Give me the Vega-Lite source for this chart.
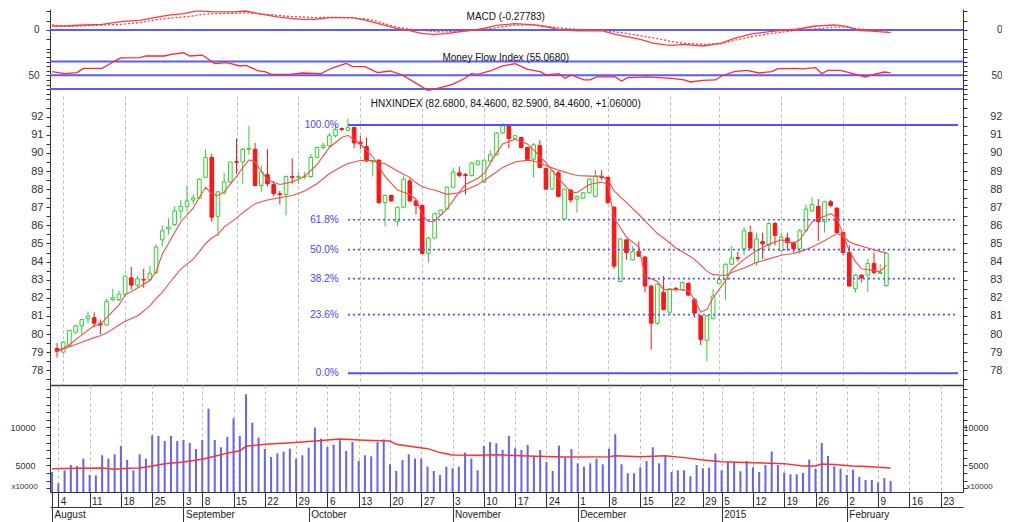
{
"$schema":"https://vega.github.io/schema/vega-lite/v6.json",
"padding":{"left":0,"top":8,"right":0,"bottom":0},
"background":"white",
"spacing":0,
"bounds":"flush",
"config":{"font":"Liberation Sans","view":{"stroke":null},"axis":{"labelFont":"Liberation Sans","titleFont":"Liberation Sans","labelColor":"#333","tickColor":"#333","domainColor":"#333"}},
"datasets":{
"k":[
{"i":0,"o":79.2,"h":79.5,"l":78.7,"c":79.05,"v":4120},
{"i":1,"o":79.0,"h":79.6,"l":78.9,"c":79.55,"v":2630},
{"i":2,"o":79.35,"h":80.2,"l":79.3,"c":80.2,"v":4340},
{"i":3,"o":80.1,"h":80.5,"l":80.0,"c":80.45,"v":5040},
{"i":4,"o":80.45,"h":80.8,"l":80.0,"c":80.8,"v":4910},
{"i":5,"o":80.85,"h":81.25,"l":80.6,"c":81.0,"v":5880},
{"i":6,"o":80.9,"h":81.2,"l":80.35,"c":80.6,"v":3730},
{"i":7,"o":80.57,"h":80.8,"l":80.0,"c":80.5,"v":3680},
{"i":8,"o":80.5,"h":81.95,"l":80.45,"c":81.8,"v":6320},
{"i":9,"o":81.9,"h":82.5,"l":81.8,"c":82.0,"v":5880},
{"i":10,"o":81.9,"h":82.4,"l":81.8,"c":82.2,"v":6450},
{"i":11,"o":82.2,"h":83.25,"l":82.1,"c":83.2,"v":7540},
{"i":12,"o":83.1,"h":83.7,"l":82.45,"c":82.7,"v":5700},
{"i":13,"o":82.7,"h":83.2,"l":82.55,"c":83.05,"v":4340},
{"i":14,"o":83.02,"h":83.6,"l":82.55,"c":82.98,"v":6450},
{"i":15,"o":83.0,"h":83.75,"l":82.95,"c":83.35,"v":5880},
{"i":16,"o":83.4,"h":84.95,"l":83.3,"c":84.8,"v":8950},
{"i":17,"o":85.2,"h":86.0,"l":84.85,"c":85.7,"v":8860},
{"i":18,"o":85.8,"h":86.4,"l":85.5,"c":85.9,"v":8200},
{"i":19,"o":86.05,"h":87.05,"l":85.95,"c":86.8,"v":8860},
{"i":20,"o":86.8,"h":87.4,"l":86.35,"c":87.05,"v":8200},
{"i":21,"o":87.05,"h":88.2,"l":86.8,"c":87.35,"v":8330},
{"i":22,"o":87.4,"h":87.7,"l":87.15,"c":87.5,"v":7940},
{"i":23,"o":87.5,"h":88.6,"l":87.45,"c":88.55,"v":7150},
{"i":24,"o":88.65,"h":90.2,"l":88.6,"c":89.75,"v":8330},
{"i":25,"o":89.75,"h":89.95,"l":86.2,"c":86.45,"v":12460},
{"i":26,"o":86.5,"h":87.9,"l":85.4,"c":87.85,"v":8330},
{"i":27,"o":87.8,"h":88.9,"l":87.7,"c":88.4,"v":7370},
{"i":28,"o":88.4,"h":89.5,"l":88.3,"c":89.5,"v":8730},
{"i":29,"o":89.52,"h":90.8,"l":88.85,"c":89.48,"v":11180},
{"i":30,"o":89.5,"h":90.3,"l":88.3,"c":90.2,"v":8860},
{"i":31,"o":90.2,"h":91.5,"l":89.9,"c":90.25,"v":14340},
{"i":32,"o":90.2,"h":90.55,"l":88.15,"c":88.2,"v":10610},
{"i":33,"o":88.2,"h":89.3,"l":87.85,"c":88.95,"v":8640},
{"i":34,"o":88.8,"h":90.2,"l":88.15,"c":88.3,"v":7150},
{"i":35,"o":88.25,"h":88.45,"l":87.6,"c":87.75,"v":6100},
{"i":36,"o":87.75,"h":87.9,"l":87.15,"c":87.7,"v":6580},
{"i":37,"o":87.7,"h":88.75,"l":86.55,"c":88.7,"v":6800},
{"i":38,"o":88.7,"h":89.7,"l":88.3,"c":88.65,"v":7190},
{"i":39,"o":88.65,"h":88.95,"l":88.3,"c":88.7,"v":5880},
{"i":40,"o":88.7,"h":88.95,"l":88.55,"c":88.72,"v":6320},
{"i":41,"o":88.7,"h":89.95,"l":88.6,"c":89.75,"v":7330},
{"i":42,"o":89.75,"h":90.35,"l":89.7,"c":90.3,"v":9960},
{"i":43,"o":90.3,"h":90.55,"l":90.2,"c":90.4,"v":8510},
{"i":44,"o":90.4,"h":91.1,"l":90.35,"c":90.95,"v":7410},
{"i":45,"o":90.95,"h":91.6,"l":90.85,"c":91.3,"v":7720},
{"i":46,"o":91.35,"h":91.4,"l":91.2,"c":91.3,"v":8290},
{"i":47,"o":91.25,"h":91.9,"l":91.2,"c":91.4,"v":6890},
{"i":48,"o":91.4,"h":91.45,"l":90.25,"c":90.55,"v":8070},
{"i":49,"o":90.6,"h":90.95,"l":90.2,"c":90.5,"v":5570},
{"i":50,"o":90.35,"h":90.85,"l":89.5,"c":89.55,"v":6320},
{"i":51,"o":89.5,"h":89.6,"l":88.7,"c":89.55,"v":6180},
{"i":52,"o":89.6,"h":89.65,"l":87.2,"c":87.25,"v":8070},
{"i":53,"o":87.25,"h":87.7,"l":85.95,"c":87.65,"v":8420},
{"i":54,"o":87.65,"h":87.7,"l":87.3,"c":87.35,"v":5130},
{"i":55,"o":86.2,"h":87.05,"l":85.95,"c":87.0,"v":4250},
{"i":56,"o":87.0,"h":88.75,"l":86.95,"c":88.55,"v":5700},
{"i":57,"o":88.45,"h":88.6,"l":87.3,"c":87.35,"v":6450},
{"i":58,"o":87.35,"h":87.4,"l":86.6,"c":87.1,"v":5880},
{"i":59,"o":87.1,"h":87.15,"l":84.4,"c":84.45,"v":5880},
{"i":60,"o":84.45,"h":85.35,"l":83.95,"c":85.3,"v":4830},
{"i":61,"o":85.3,"h":86.7,"l":85.25,"c":86.65,"v":4250},
{"i":62,"o":86.6,"h":86.9,"l":86.55,"c":86.85,"v":3730},
{"i":63,"o":86.9,"h":88.15,"l":86.85,"c":88.1,"v":4830},
{"i":64,"o":88.1,"h":89.2,"l":88.05,"c":88.95,"v":4610},
{"i":65,"o":88.9,"h":89.25,"l":88.65,"c":88.75,"v":4830},
{"i":66,"o":88.8,"h":88.9,"l":87.7,"c":88.75,"v":6670},
{"i":67,"o":88.75,"h":89.5,"l":88.7,"c":89.45,"v":5880},
{"i":68,"o":89.35,"h":89.6,"l":89.3,"c":89.55,"v":4340},
{"i":69,"o":88.4,"h":89.6,"l":88.35,"c":89.6,"v":7540},
{"i":70,"o":89.55,"h":90.15,"l":89.5,"c":89.9,"v":8070},
{"i":71,"o":89.9,"h":91.15,"l":89.85,"c":91.1,"v":7900},
{"i":72,"o":91.1,"h":91.65,"l":91.05,"c":91.5,"v":7020},
{"i":73,"o":91.5,"h":91.55,"l":90.25,"c":90.8,"v":8860},
{"i":74,"o":90.8,"h":91.0,"l":90.7,"c":90.95,"v":7240},
{"i":75,"o":90.85,"h":90.9,"l":90.25,"c":90.3,"v":7020},
{"i":76,"o":90.3,"h":90.35,"l":89.6,"c":89.65,"v":7680},
{"i":77,"o":89.65,"h":90.55,"l":88.65,"c":90.45,"v":6140},
{"i":78,"o":90.4,"h":90.7,"l":89.15,"c":89.2,"v":7020},
{"i":79,"o":89.15,"h":89.2,"l":87.95,"c":88.0,"v":5440},
{"i":80,"o":88.0,"h":89.05,"l":87.95,"c":89.0,"v":4250},
{"i":81,"o":88.9,"h":89.0,"l":87.55,"c":87.6,"v":7590},
{"i":82,"o":86.35,"h":88.05,"l":86.3,"c":88.0,"v":6010},
{"i":83,"o":87.95,"h":88.0,"l":87.25,"c":87.4,"v":7150},
{"i":84,"o":87.45,"h":87.65,"l":86.7,"c":87.6,"v":5260},
{"i":85,"o":87.5,"h":87.85,"l":87.45,"c":87.8,"v":4830},
{"i":86,"o":87.8,"h":88.6,"l":87.75,"c":88.55,"v":5260},
{"i":87,"o":87.6,"h":89.05,"l":87.55,"c":88.7,"v":5880},
{"i":88,"o":88.7,"h":89.05,"l":88.5,"c":88.65,"v":5130},
{"i":89,"o":88.65,"h":88.7,"l":87.2,"c":87.25,"v":7190},
{"i":90,"o":87.0,"h":87.05,"l":83.6,"c":83.75,"v":9080},
{"i":91,"o":82.9,"h":85.3,"l":82.85,"c":85.25,"v":5130},
{"i":92,"o":85.2,"h":85.25,"l":84.1,"c":84.5,"v":3950},
{"i":93,"o":84.1,"h":84.85,"l":84.05,"c":84.55,"v":3950},
{"i":94,"o":84.55,"h":85.1,"l":84.25,"c":84.3,"v":4740},
{"i":95,"o":84.25,"h":84.3,"l":82.3,"c":82.65,"v":5570},
{"i":96,"o":82.65,"h":82.7,"l":79.15,"c":80.6,"v":7370},
{"i":97,"o":80.6,"h":82.8,"l":80.5,"c":82.75,"v":5260},
{"i":98,"o":82.3,"h":83.2,"l":81.3,"c":81.35,"v":6230},
{"i":99,"o":81.2,"h":82.55,"l":81.15,"c":82.5,"v":4120},
{"i":100,"o":82.52,"h":82.6,"l":82.35,"c":82.48,"v":4340},
{"i":101,"o":82.45,"h":82.9,"l":82.4,"c":82.85,"v":4340},
{"i":102,"o":82.8,"h":82.85,"l":82.1,"c":82.15,"v":3550},
{"i":103,"o":81.9,"h":82.0,"l":80.9,"c":81.15,"v":5040},
{"i":104,"o":81.0,"h":81.05,"l":79.4,"c":79.7,"v":4610},
{"i":105,"o":79.65,"h":81.05,"l":78.5,"c":81.0,"v":4690},
{"i":106,"o":80.85,"h":82.5,"l":80.8,"c":82.1,"v":6540},
{"i":107,"o":82.8,"h":83.2,"l":82.75,"c":83.0,"v":4340},
{"i":108,"o":83.0,"h":83.9,"l":81.9,"c":83.85,"v":5440},
{"i":109,"o":83.85,"h":84.85,"l":83.8,"c":84.2,"v":5440},
{"i":110,"o":84.22,"h":84.55,"l":84.0,"c":84.18,"v":4210},
{"i":111,"o":84.7,"h":85.9,"l":84.35,"c":85.7,"v":5570},
{"i":112,"o":85.6,"h":86.0,"l":84.7,"c":84.75,"v":4740},
{"i":113,"o":83.95,"h":85.6,"l":83.75,"c":85.25,"v":4120},
{"i":114,"o":85.1,"h":85.6,"l":84.15,"c":84.98,"v":5040},
{"i":115,"o":84.9,"h":86.2,"l":84.6,"c":86.1,"v":6800},
{"i":116,"o":86.1,"h":86.2,"l":84.9,"c":85.45,"v":5040},
{"i":117,"o":84.6,"h":85.6,"l":84.55,"c":85.35,"v":4040},
{"i":118,"o":85.3,"h":85.6,"l":84.6,"c":85.05,"v":3820},
{"i":119,"o":85.05,"h":85.1,"l":84.5,"c":84.7,"v":3820},
{"i":120,"o":84.7,"h":85.8,"l":84.45,"c":85.7,"v":3990},
{"i":121,"o":85.7,"h":87.15,"l":85.65,"c":86.9,"v":5750},
{"i":122,"o":86.8,"h":87.55,"l":86.75,"c":87.15,"v":4560},
{"i":123,"o":87.05,"h":87.45,"l":85.15,"c":86.2,"v":7940},
{"i":124,"o":86.2,"h":87.35,"l":85.6,"c":87.3,"v":6230},
{"i":125,"o":87.3,"h":87.4,"l":87.0,"c":87.1,"v":4870},
{"i":126,"o":86.95,"h":87.0,"l":85.55,"c":85.6,"v":4560},
{"i":127,"o":85.6,"h":85.65,"l":84.35,"c":84.5,"v":3730},
{"i":128,"o":84.5,"h":84.9,"l":82.6,"c":82.65,"v":4430},
{"i":129,"o":82.5,"h":83.3,"l":82.3,"c":83.25,"v":3470},
{"i":130,"o":83.25,"h":83.3,"l":82.85,"c":83.1,"v":3070},
{"i":131,"o":83.25,"h":84.15,"l":82.3,"c":83.9,"v":3070},
{"i":132,"o":83.9,"h":84.5,"l":83.3,"c":83.4,"v":2760},
{"i":133,"o":83.35,"h":83.85,"l":83.3,"c":83.4,"v":3330},
{"i":134,"o":82.68,"h":84.46,"l":82.59,"c":84.46,"v":2940}
],
"ma":[
{"i":0,"a":79.04,"b":79.04},{"i":2,"a":79.41,"b":79.3},{"i":4,"a":79.95,"b":79.55},{"i":6,"a":80.47,"b":79.8},{"i":7,"a":80.51,"b":79.9},{"i":8,"a":80.9,"b":80.05},{"i":10,"a":81.6,"b":80.5},{"i":11,"a":82.15,"b":80.7},{"i":13,"a":82.54,"b":81.0},{"i":15,"a":82.95,"b":81.55},{"i":16,"a":83.45,"b":81.95},{"i":17,"a":84.4,"b":82.3},{"i":18,"a":85.0,"b":82.75},{"i":20,"a":86.2,"b":83.58},{"i":22,"a":86.95,"b":84.13},{"i":23,"a":87.55,"b":84.55},{"i":24,"a":88.1,"b":85.0},{"i":25,"a":87.75,"b":85.3},{"i":26,"a":87.65,"b":85.5},{"i":27,"a":87.85,"b":85.9},{"i":29,"a":88.7,"b":86.4},{"i":30,"a":89.18,"b":86.7},{"i":31,"a":89.62,"b":86.95},{"i":32,"a":89.5,"b":87.2},{"i":33,"a":89.0,"b":87.3},{"i":34,"a":88.5,"b":87.4},{"i":36,"a":88.26,"b":87.52},{"i":38,"a":88.4,"b":87.65},{"i":40,"a":88.7,"b":87.9},{"i":42,"a":89.35,"b":88.3},{"i":44,"a":90.3,"b":88.85},{"i":46,"a":90.85,"b":89.25},{"i":47,"a":90.97,"b":89.42},{"i":49,"a":90.5,"b":89.58},{"i":51,"a":89.8,"b":89.58},{"i":53,"a":88.7,"b":89.4},{"i":55,"a":87.95,"b":89.0},{"i":57,"a":87.7,"b":88.65},{"i":58,"a":87.43,"b":88.35},{"i":59,"a":86.6,"b":88.15},{"i":60,"a":86.2,"b":88.02},{"i":61,"a":86.24,"b":87.95},{"i":63,"a":86.9,"b":87.71},{"i":65,"a":87.85,"b":87.8},{"i":66,"a":88.26,"b":87.95},{"i":68,"a":88.6,"b":88.25},{"i":69,"a":88.85,"b":88.48},{"i":71,"a":90.0,"b":88.95},{"i":72,"a":90.5,"b":89.2},{"i":74,"a":90.75,"b":89.5},{"i":76,"a":90.5,"b":89.6},{"i":77,"a":90.15,"b":89.55},{"i":79,"a":89.46,"b":89.3},{"i":81,"a":88.6,"b":89.05},{"i":83,"a":87.85,"b":88.85},{"i":84,"a":87.8,"b":88.75},{"i":86,"a":88.26,"b":88.72},{"i":88,"a":88.39,"b":88.72},{"i":89,"a":88.26,"b":88.5},{"i":90,"a":86.4,"b":87.9},{"i":92,"a":85.35,"b":87.25},{"i":94,"a":84.8,"b":86.6},{"i":95,"a":83.2,"b":86.25},{"i":97,"a":82.9,"b":85.55},{"i":98,"a":82.45,"b":85.3},{"i":100,"a":82.46,"b":84.75},{"i":102,"a":82.4,"b":84.35},{"i":103,"a":81.91,"b":84.12},{"i":104,"a":81.2,"b":83.8},{"i":105,"a":81.36,"b":83.47},{"i":106,"a":82.0,"b":83.28},{"i":108,"a":82.95,"b":83.23},{"i":109,"a":83.55,"b":83.4},{"i":111,"a":84.12,"b":83.65},{"i":113,"a":84.6,"b":83.95},{"i":115,"a":84.95,"b":84.15},{"i":117,"a":85.2,"b":84.35},{"i":119,"a":85.0,"b":84.45},{"i":120,"a":85.2,"b":84.55},{"i":121,"a":85.7,"b":84.65},{"i":122,"a":86.2,"b":84.8},{"i":124,"a":86.5,"b":85.15},{"i":125,"a":86.65,"b":85.35},{"i":126,"a":86.4,"b":85.55},{"i":127,"a":85.5,"b":85.4},{"i":128,"a":84.6,"b":85.1},{"i":129,"a":84.0,"b":84.95},{"i":130,"a":83.6,"b":84.85},{"i":132,"a":83.5,"b":84.65},{"i":133,"a":83.45,"b":84.55},{"i":134,"a":83.8,"b":84.48}
],
"vma":[
{"i":0,"v":4560},{"i":4,"v":4600},{"i":8,"v":4650},{"i":10,"v":4470},{"i":12,"v":4620},{"i":14,"v":4650},{"i":16,"v":4900},{"i":18,"v":5200},{"i":21,"v":5440},{"i":24,"v":5790},{"i":26,"v":6200},{"i":28,"v":6600},{"i":30,"v":6900},{"i":31,"v":7500},{"i":34,"v":7760},{"i":37,"v":7900},{"i":40,"v":8070},{"i":42,"v":8200},{"i":46,"v":8450},{"i":50,"v":8290},{"i":54,"v":8200},{"i":55,"v":7760},{"i":58,"v":7410},{"i":60,"v":7190},{"i":62,"v":6670},{"i":64,"v":6360},{"i":68,"v":6320},{"i":71,"v":6400},{"i":76,"v":6230},{"i":82,"v":6100},{"i":89,"v":6140},{"i":90,"v":6270},{"i":94,"v":6140},{"i":98,"v":6250},{"i":101,"v":6010},{"i":104,"v":5700},{"i":107,"v":5480},{"i":112,"v":5350},{"i":117,"v":5220},{"i":120,"v":4910},{"i":122,"v":4910},{"i":123,"v":5170},{"i":125,"v":5090},{"i":128,"v":4910},{"i":131,"v":4820},{"i":134,"v":4650}
],
"macd":[
{"i":0,"m":0.43,"s":0.54},{"i":2,"m":0.43,"s":0.38},{"i":5,"m":0.54,"s":0.45},{"i":8,"m":0.61,"s":0.54},{"i":11,"m":0.9,"s":0.61},{"i":14,"m":1.04,"s":0.79},{"i":17,"m":1.4,"s":1.15},{"i":19,"m":1.62,"s":1.28},{"i":21,"m":1.76,"s":1.4},{"i":23,"m":2.04,"s":1.55},{"i":24,"m":2.04,"s":1.68},{"i":26,"m":1.94,"s":1.75},{"i":29,"m":1.94,"s":1.8},{"i":31,"m":2.04,"s":1.86},{"i":33,"m":1.76,"s":1.76},{"i":36,"m":1.4,"s":1.58},{"i":38,"m":1.25,"s":1.45},{"i":40,"m":1.15,"s":1.4},{"i":42,"m":1.15,"s":1.33},{"i":44,"m":1.3,"s":1.36},{"i":46,"m":1.33,"s":1.35},{"i":48,"m":1.33,"s":1.3},{"i":50,"m":1.05,"s":1.2},{"i":52,"m":0.7,"s":0.92},{"i":54,"m":0.35,"s":0.5},{"i":55,"m":0.18,"s":0.32},{"i":57,"m":-0.04,"s":0.1},{"i":59,"m":-0.36,"s":0.0},{"i":61,"m":-0.47,"s":-0.18},{"i":63,"m":-0.4,"s":-0.2},{"i":65,"m":-0.2,"s":-0.15},{"i":67,"m":-0.04,"s":-0.05},{"i":69,"m":0.18,"s":0.05},{"i":71,"m":0.5,"s":0.25},{"i":74,"m":0.68,"s":0.52},{"i":77,"m":0.56,"s":0.56},{"i":79,"m":0.35,"s":0.4},{"i":81,"m":0.05,"s":0.22},{"i":84,"m":-0.1,"s":0.07},{"i":88,"m":-0.1,"s":-0.02},{"i":90,"m":-0.47,"s":-0.2},{"i":92,"m":-0.75,"s":-0.39},{"i":94,"m":-1.0,"s":-0.6},{"i":96,"m":-1.4,"s":-0.85},{"i":98,"m":-1.6,"s":-1.1},{"i":99,"m":-1.65,"s":-1.25},{"i":101,"m":-1.54,"s":-1.43},{"i":104,"m":-1.72,"s":-1.54},{"i":107,"m":-1.4,"s":-1.47},{"i":109,"m":-0.9,"s":-1.12},{"i":112,"m":-0.39,"s":-0.68},{"i":115,"m":-0.15,"s":-0.37},{"i":117,"m":0.0,"s":-0.2},{"i":119,"m":0.08,"s":-0.03},{"i":122,"m":0.43,"s":0.12},{"i":123,"m":0.48,"s":0.18},{"i":125,"m":0.54,"s":0.32},{"i":127,"m":0.4,"s":0.3},{"i":129,"m":-0.06,"s":0.12},{"i":131,"m":-0.12,"s":-0.02},{"i":134,"m":-0.28,"s":-0.1}
],
"mfi":[
{"i":0,"f":58},{"i":2,"f":53.6},{"i":4,"f":55.8},{"i":5,"f":65},{"i":8,"f":65},{"i":10,"f":81},{"i":11,"f":88},{"i":14,"f":88.4},{"i":15,"f":92},{"i":18,"f":92},{"i":19,"f":95.6},{"i":21,"f":99},{"i":22,"f":92},{"i":24,"f":94},{"i":26,"f":75.4},{"i":28,"f":77.5},{"i":30,"f":70.3},{"i":31,"f":71.7},{"i":33,"f":59.4},{"i":34,"f":58},{"i":35,"f":52.2},{"i":38,"f":52.2},{"i":40,"f":55},{"i":43,"f":53.6},{"i":44,"f":61},{"i":45,"f":66.7},{"i":47,"f":76},{"i":48,"f":69.6},{"i":50,"f":68.8},{"i":52,"f":55.8},{"i":54,"f":59.4},{"i":56,"f":50.7},{"i":58,"f":34},{"i":60,"f":17.4},{"i":61,"f":19.6},{"i":64,"f":30.4},{"i":66,"f":43.5},{"i":67,"f":53.6},{"i":68,"f":52.2},{"i":70,"f":59.4},{"i":72,"f":70.3},{"i":74,"f":75.4},{"i":76,"f":63},{"i":78,"f":58},{"i":79,"f":50.7},{"i":81,"f":53.6},{"i":82,"f":43.5},{"i":83,"f":50.7},{"i":85,"f":39.9},{"i":86,"f":39.9},{"i":87,"f":46.4},{"i":90,"f":46.4},{"i":91,"f":37.7},{"i":92,"f":45},{"i":95,"f":46.4},{"i":99,"f":43.5},{"i":101,"f":39.9},{"i":102,"f":35.5},{"i":104,"f":39.1},{"i":106,"f":39.9},{"i":107,"f":48.5},{"i":109,"f":58},{"i":111,"f":60.9},{"i":113,"f":55},{"i":115,"f":58},{"i":116,"f":64.5},{"i":119,"f":65.2},{"i":120,"f":63.8},{"i":122,"f":66.7},{"i":123,"f":53.6},{"i":124,"f":60.9},{"i":126,"f":60.9},{"i":128,"f":53.6},{"i":130,"f":46.4},{"i":131,"f":50.7},{"i":133,"f":57.2},{"i":134,"f":55.07}
],
"fib":[
{"p":"100.0%","y":91.54,"s":1},{"p":"61.8%","y":86.31,"s":0},{"p":"50.0%","y":84.66,"s":0},{"p":"38.2%","y":83.06,"s":0},{"p":"23.6%","y":81.07,"s":0},{"p":"0.0%","y":77.83,"s":1}
]
},
"vconcat":[
{
"width":913,"height":40,
"resolve":{"axis":{"y":"independent"}},
"layer":[
{"data":{"values":[{}]},"mark":{"type":"rule","color":"#5b5bff","strokeWidth":2},"encoding":{"y":{"datum":0,"type":"quantitative","scale":{"domain":[-2.043,2.258],"nice":false,"zero":false},"axis":null}}},
{"data":{"name":"macd"},"mark":{"type":"line","color":"#ff3c3c","strokeWidth":1.3},
"encoding":{
"x":{"field":"i","type":"quantitative","scale":{"domain":[-0.33,145.57],"nice":false,"zero":false},"axis":{"values":[1,6,11,16,21,24,29,34,39,44,49,54,59,64,69,74,79,84,89,94,99,104,107,112,117,122,127,132,137,142],"grid":true,"gridColor":"#bbbbbb","gridDash":[3,3],"labels":false,"ticks":false,"domain":true,"domainColor":"#3a3a3a","domainWidth":1.5,"title":null,"minExtent":0,"maxExtent":0}},
"y":{"field":"m","type":"quantitative","scale":{"domain":[-2.043,2.258],"nice":false,"zero":false},"axis":{"values":[-2,-1,0,1,2],"labelExpr":"datum.value==0?'0':''","tickSize":4,"labelPadding":7,"labelFontSize":10,"title":null,"grid":false,"minExtent":50,"maxExtent":50}}}},
{"data":{"name":"macd"},"mark":{"type":"line","color":"#ff3c3c","strokeWidth":1.3,"strokeDash":[2,2]},
"encoding":{
"x":{"field":"i","type":"quantitative","scale":{"domain":[-0.33,145.57],"nice":false,"zero":false}},
"y":{"field":"s","type":"quantitative","scale":{"domain":[-2.043,2.258],"nice":false,"zero":false},"axis":{"orient":"right","values":[-2,-1,0,1,2],"labelExpr":"datum.value==0?'0':''","tickSize":4,"labelPadding":35,"labelAlign":"right","labelFontSize":10,"title":null,"grid":false}}}},
{"data":{"values":[{}]},"mark":{"type":"text","fontSize":10,"color":"#111","baseline":"middle","align":"center"},
"encoding":{"x":{"datum":72.5,"type":"quantitative","scale":{"domain":[-0.33,145.57],"nice":false,"zero":false},"axis":null},"y":{"datum":1.4,"type":"quantitative","scale":{"domain":[-2.043,2.258],"nice":false,"zero":false},"axis":null},"text":{"value":"MACD (-0.27783)"}}}
]
},
{
"width":913,"height":47,
"resolve":{"axis":{"y":"independent"}},
"layer":[
{"data":{"values":[{"t":20},{"t":50},{"t":80}]},"mark":{"type":"rule","color":"#5b5bff","strokeWidth":2},"encoding":{"y":{"field":"t","type":"quantitative","scale":{"domain":[5,107.2],"nice":false,"zero":false},"axis":null}}},
{"data":{"name":"mfi"},"mark":{"type":"line","color":"#ff2a2a","strokeWidth":1.3},
"encoding":{
"x":{"field":"i","type":"quantitative","scale":{"domain":[-0.33,145.57],"nice":false,"zero":false},"axis":{"values":[1,6,11,16,21,24,29,34,39,44,49,54,59,64,69,74,79,84,89,94,99,104,107,112,117,122,127,132,137,142],"grid":true,"gridColor":"#bbbbbb","gridDash":[3,3],"labels":false,"ticks":false,"domain":true,"domainColor":"#3a3a3a","domainWidth":1.5,"title":null,"minExtent":0,"maxExtent":0}},
"y":{"field":"f","type":"quantitative","scale":{"domain":[5,107.2],"nice":false,"zero":false},"axis":{"values":[10,20,30,40,50,60,70,80,90,100],"labelExpr":"datum.value==50?'50':''","tickSize":4,"labelPadding":7,"labelFontSize":10,"title":null,"grid":false,"minExtent":50,"maxExtent":50}}}},
{"data":{"name":"mfi"},"mark":{"type":"line","opacity":0},
"encoding":{
"x":{"field":"i","type":"quantitative","scale":{"domain":[-0.33,145.57],"nice":false,"zero":false}},
"y":{"field":"f","type":"quantitative","scale":{"domain":[5,107.2],"nice":false,"zero":false},"axis":{"orient":"right","values":[10,20,30,40,50,60,70,80,90,100],"labelExpr":"datum.value==50?'50':''","tickSize":4,"labelPadding":35,"labelAlign":"right","labelFontSize":10,"title":null,"grid":false}}}},
{"data":{"values":[{}]},"mark":{"type":"text","fontSize":10,"color":"#111","baseline":"middle","align":"center"},
"encoding":{"x":{"datum":72.5,"type":"quantitative","scale":{"domain":[-0.33,145.57],"nice":false,"zero":false},"axis":null},"y":{"datum":87,"type":"quantitative","scale":{"domain":[5,107.2],"nice":false,"zero":false},"axis":null},"text":{"value":"Money Flow Index (55.0680)"}}}
]
},
{
"width":913,"height":289,
"resolve":{"axis":{"y":"independent"}},
"layer":[
{"data":{"name":"k"},"mark":{"type":"rule","strokeWidth":1},
"encoding":{
"x":{"field":"i","type":"quantitative","scale":{"domain":[-0.33,145.57],"nice":false,"zero":false},"axis":{"values":[1,6,11,16,21,24,29,34,39,44,49,54,59,64,69,74,79,84,89,94,99,104,107,112,117,122,127,132,137,142],"grid":true,"gridColor":"#bbbbbb","gridDash":[3,3],"labels":false,"ticks":false,"domain":true,"domainColor":"#3a3a3a","domainWidth":1.5,"title":null,"minExtent":0,"maxExtent":0}},
"y":{"field":"l","type":"quantitative","scale":{"domain":[77.185,93.143],"nice":false,"zero":false},"axis":{"values":[77.5,78,78.5,79,79.5,80,80.5,81,81.5,82,82.5,83,83.5,84,84.5,85,85.5,86,86.5,87,87.5,88,88.5,89,89.5,90,90.5,91,91.5,92,92.5,93],"labelExpr":"(datum.value%1==0&&datum.value<93)?format(datum.value,'d'):''","tickSize":4,"labelPadding":3,"labelFontSize":11,"title":null,"grid":false,"minExtent":50,"maxExtent":50}},
"y2":{"field":"h"},
"color":{"condition":{"test":"datum.c>=datum.o","value":"#2fd12f"},"value":"#ff1414"}}},
{"data":{"name":"k"},"mark":{"type":"bar","size":3.6,"strokeWidth":1},
"encoding":{
"x":{"field":"i","type":"quantitative","scale":{"domain":[-0.33,145.57],"nice":false,"zero":false}},
"y":{"field":"o","type":"quantitative","scale":{"domain":[77.185,93.143],"nice":false,"zero":false},"axis":null},
"y2":{"field":"c"},
"fill":{"condition":{"test":"datum.c>=datum.o","value":"#ffffff"},"value":"#ff1414"},
"stroke":{"condition":{"test":"datum.c>=datum.o","value":"#2fd12f"},"value":"#ff1414"}}},
{"data":{"name":"ma"},"mark":{"type":"line","color":"#ff4a4a","strokeWidth":1.1},
"encoding":{
"x":{"field":"i","type":"quantitative","scale":{"domain":[-0.33,145.57],"nice":false,"zero":false}},
"y":{"field":"a","type":"quantitative","scale":{"domain":[77.185,93.143],"nice":false,"zero":false},"axis":{"orient":"right","values":[77.5,78,78.5,79,79.5,80,80.5,81,81.5,82,82.5,83,83.5,84,84.5,85,85.5,86,86.5,87,87.5,88,88.5,89,89.5,90,90.5,91,91.5,92,92.5,93],"labelExpr":"(datum.value%1==0&&datum.value<93)?format(datum.value,'d'):''","tickSize":4,"labelPadding":35,"labelAlign":"right","labelFontSize":11,"title":null,"grid":false}}}},
{"data":{"name":"ma"},"mark":{"type":"line","color":"#ff4a4a","strokeWidth":1.1},
"encoding":{
"x":{"field":"i","type":"quantitative","scale":{"domain":[-0.33,145.57],"nice":false,"zero":false}},
"y":{"field":"b","type":"quantitative","scale":{"domain":[77.185,93.143],"nice":false,"zero":false},"axis":null}}},
{"data":{"name":"fib"},"mark":{"type":"rule","color":"#5050ff"},
"encoding":{
"x":{"datum":47,"type":"quantitative","scale":{"domain":[-0.33,145.57],"nice":false,"zero":false}},
"x2":{"datum":145.57},
"y":{"field":"y","type":"quantitative","scale":{"domain":[77.185,93.143],"nice":false,"zero":false},"axis":null},
"strokeDash":{"condition":{"test":"datum.s==1","value":[1,0]},"value":[2,3]},
"strokeWidth":{"condition":{"test":"datum.s==1","value":2},"value":1.6}}},
{"data":{"name":"fib"},"mark":{"type":"text","color":"#4646ff","fontSize":10,"align":"right","baseline":"middle"},
"encoding":{
"x":{"datum":45.5,"type":"quantitative","scale":{"domain":[-0.33,145.57],"nice":false,"zero":false}},
"y":{"field":"y","type":"quantitative","scale":{"domain":[77.185,93.143],"nice":false,"zero":false},"axis":null},
"text":{"field":"p"}}},
{"data":{"values":[{}]},"mark":{"type":"text","fontSize":10,"color":"#111","baseline":"middle","align":"center"},
"encoding":{"x":{"datum":72.5,"type":"quantitative","scale":{"domain":[-0.33,145.57],"nice":false,"zero":false}},"y":{"datum":92.7,"type":"quantitative","scale":{"domain":[77.185,93.143],"nice":false,"zero":false},"axis":null},"text":{"value":"HNXINDEX (82.6800, 84.4600, 82.5900, 84.4600, +1.06000)"}}}
]
},
{
"width":913,"height":107,
"resolve":{"axis":{"x":"independent","y":"independent"}},
"layer":[
{"data":{"name":"k"},"mark":{"type":"rule","color":"#6262ff","strokeWidth":2},
"encoding":{
"x":{"field":"i","type":"quantitative","scale":{"domain":[-0.33,145.57],"nice":false,"zero":false},"axis":{"orient":"bottom","values":[0,1,6,11,16,21,24,29,34,39,44,49,54,59,64,69,74,79,84,89,94,99,104,107,112,117,122,127,132,137,142],"grid":true,"gridColor":"#bbbbbb","gridDash":[3,3],"gridOpacity":{"condition":{"test":"datum.value==0","value":0},"value":1},"tickSize":15,"labelAlign":"left","labelBaseline":"middle","labelPadding":-6,"labelOffset":2,"labelFontSize":10,"labelColor":"#222","labelOverlap":false,"labelExpr":"['','4','11','18','25','3','8','15','22','29','6','13','20','27','3','10','17','24','1','8','15','22','29','5','12','19','26','2','9','16','23'][indexof([0,1,6,11,16,21,24,29,34,39,44,49,54,59,64,69,74,79,84,89,94,99,104,107,112,117,122,127,132,137,142], datum.value)]","domain":true,"domainColor":"#333","title":null}},
"y":{"field":"v","type":"quantitative","scale":{"domain":[1487,15566],"nice":false,"zero":false},"axis":{"values":[2000,3000,4000,5000,6000,7000,8000,9000,10000,11000,12000,13000,14000,15000],"labelExpr":"(datum.value==5000||datum.value==10000)?format(datum.value,'d'):''","tickSize":4,"labelPadding":11,"labelFontSize":9,"grid":false,"minExtent":50,"maxExtent":50,"title":"x10000","titleAngle":0,"titleFontSize":8,"titleFontWeight":"normal","titleColor":"#333","titleAlign":"center","titleBaseline":"middle","titleX":-26,"titleY":101}},
"y2":{"datum":1487}}},
{"data":{"name":"vma"},"mark":{"type":"line","color":"#ff3030","strokeWidth":1.5},
"encoding":{
"x":{"field":"i","type":"quantitative","scale":{"domain":[-0.33,145.57],"nice":false,"zero":false},"axis":{"orient":"bottom","values":[0,21,41,64,84,107,127],"offset":15,"tickSize":15,"labelAlign":"left","labelBaseline":"middle","labelPadding":-8,"labelOffset":2,"labelFontSize":10,"labelColor":"#222","labelOverlap":false,"labelExpr":"['August','September','October','November','December','2015','February'][indexof([0,21,41,64,84,107,127], datum.value)]","grid":false,"domain":true,"domainColor":"#333","title":null}},
"y":{"field":"v","type":"quantitative","scale":{"domain":[1487,15566],"nice":false,"zero":false},"axis":{"orient":"right","values":[2000,3000,4000,5000,6000,7000,8000,9000,10000,11000,12000,13000,14000,15000],"labelExpr":"(datum.value==5000||datum.value==10000)?format(datum.value,'d'):''","tickSize":4,"labelPadding":21,"labelAlign":"right","labelFontSize":9,"grid":false,"title":"x10000","titleAngle":0,"titleFontSize":8,"titleFontWeight":"normal","titleColor":"#333","titleAlign":"center","titleBaseline":"middle","titleX":16,"titleY":101}}}}
]
}
]
}
